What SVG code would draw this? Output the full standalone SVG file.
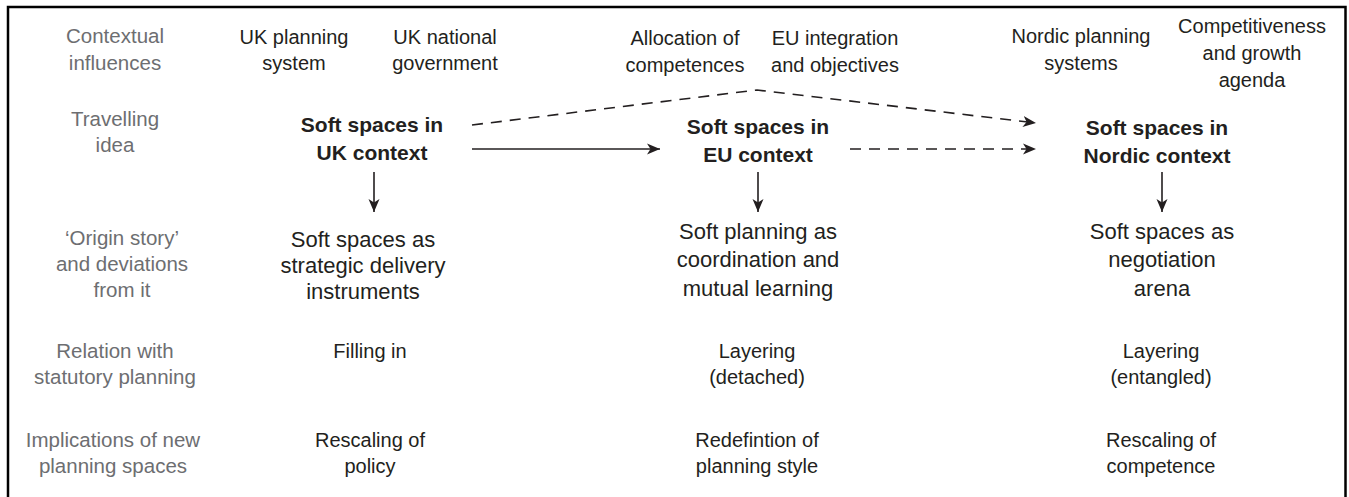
<svg xmlns="http://www.w3.org/2000/svg" width="1349" height="497" viewBox="0 0 1349 497">
<style>
text{font-family:"Liberation Sans",Arial,sans-serif;text-anchor:middle;fill:#231f20}
.lab{fill:#6d6e71;font-size:20.5px}
.ctx{font-size:20px}
.idea{font-size:21px;font-weight:bold}
.org{font-size:22px}
.rel{font-size:20px}
.ln{stroke:#231f20;stroke-width:1.6;fill:none}
.dash{stroke-dasharray:11 8}
</style>
<defs>
<marker id="ah" markerUnits="userSpaceOnUse" markerWidth="14" markerHeight="12" viewBox="0 0 14 12" refX="13" refY="6" orient="auto">
<path d="M0,0.5 L13,6 L0,11.5 L3.5,6 Z" fill="#231f20"/>
</marker>
</defs>
<rect id="frame" x="8" y="7" width="1337.5" height="520" fill="none" stroke="#000" stroke-width="2.5"/>
<g id="row-labels">
<g id="label-context"><text class="lab" x="115" y="43">Contextual</text><text class="lab" x="115" y="70">influences</text></g>
<g id="label-idea"><text class="lab" x="115" y="126">Travelling</text><text class="lab" x="115" y="152">idea</text></g>
<g id="label-origin"><text class="lab" x="122" y="245">‘Origin story’</text><text class="lab" x="122" y="271">and deviations</text><text class="lab" x="122" y="297">from it</text></g>
<g id="label-relation"><text class="lab" x="115" y="358">Relation with</text><text class="lab" x="115" y="384">statutory planning</text></g>
<g id="label-implications"><text class="lab" x="113" y="447">Implications of new</text><text class="lab" x="113" y="473">planning spaces</text></g>
</g>
<g id="ctx-uk-planning"><text class="ctx" x="294" y="44">UK planning</text><text class="ctx" x="294" y="70">system</text></g>
<g id="ctx-uk-gov"><text class="ctx" x="445" y="44">UK national</text><text class="ctx" x="445" y="70">government</text></g>
<g id="ctx-allocation"><text class="ctx" x="685" y="45">Allocation of</text><text class="ctx" x="685" y="72">competences</text></g>
<g id="ctx-eu"><text class="ctx" x="835" y="45">EU integration</text><text class="ctx" x="835" y="72">and objectives</text></g>
<g id="ctx-nordic"><text class="ctx" x="1081" y="43">Nordic planning</text><text class="ctx" x="1081" y="70">systems</text></g>
<g id="ctx-growth"><text class="ctx" x="1252" y="33">Competitiveness</text><text class="ctx" x="1252" y="60">and growth</text><text class="ctx" x="1252" y="87">agenda</text></g>
<g id="idea-uk"><text class="idea" x="372" y="132">Soft spaces in</text><text class="idea" x="372" y="160">UK context</text></g>
<g id="idea-eu"><text class="idea" x="758" y="134">Soft spaces in</text><text class="idea" x="758" y="162">EU context</text></g>
<g id="idea-nordic"><text class="idea" x="1157" y="135">Soft spaces in</text><text class="idea" x="1157" y="163">Nordic context</text></g>
<g id="origin-uk"><text class="org" x="363" y="247">Soft spaces as</text><text class="org" x="363" y="273">strategic delivery</text><text class="org" x="363" y="299">instruments</text></g>
<g id="origin-eu"><text class="org" x="758" y="239">Soft planning as</text><text class="org" x="758" y="267">coordination and</text><text class="org" x="758" y="296">mutual learning</text></g>
<g id="origin-nordic"><text class="org" x="1162" y="239">Soft spaces as</text><text class="org" x="1162" y="267">negotiation</text><text class="org" x="1162" y="296">arena</text></g>
<g id="rel-uk"><text class="rel" x="370" y="358">Filling in</text></g>
<g id="rel-eu"><text class="rel" x="757" y="358">Layering</text><text class="rel" x="757" y="384">(detached)</text></g>
<g id="rel-nordic"><text class="rel" x="1161" y="358">Layering</text><text class="rel" x="1161" y="384">(entangled)</text></g>
<g id="impl-uk"><text class="rel" x="370" y="447">Rescaling of</text><text class="rel" x="370" y="473">policy</text></g>
<g id="impl-eu"><text class="rel" x="757" y="447">Redefintion of</text><text class="rel" x="757" y="473">planning style</text></g>
<g id="impl-nordic"><text class="rel" x="1161" y="447">Rescaling of</text><text class="rel" x="1161" y="473">competence</text></g>
<g id="connectors">
<line class="ln" x1="472" y1="149" x2="660" y2="149" marker-end="url(#ah)"/>
<line class="ln dash" x1="850" y1="149" x2="1036" y2="149" marker-end="url(#ah)"/>
<polyline class="ln dash" points="472,125 757,90 1036,123" marker-end="url(#ah)"/>
<line class="ln" x1="374" y1="172" x2="374" y2="212" marker-end="url(#ah)"/>
<line class="ln" x1="758" y1="172" x2="758" y2="212" marker-end="url(#ah)"/>
<line class="ln" x1="1162" y1="172" x2="1162" y2="212" marker-end="url(#ah)"/>
</g>
</svg>
